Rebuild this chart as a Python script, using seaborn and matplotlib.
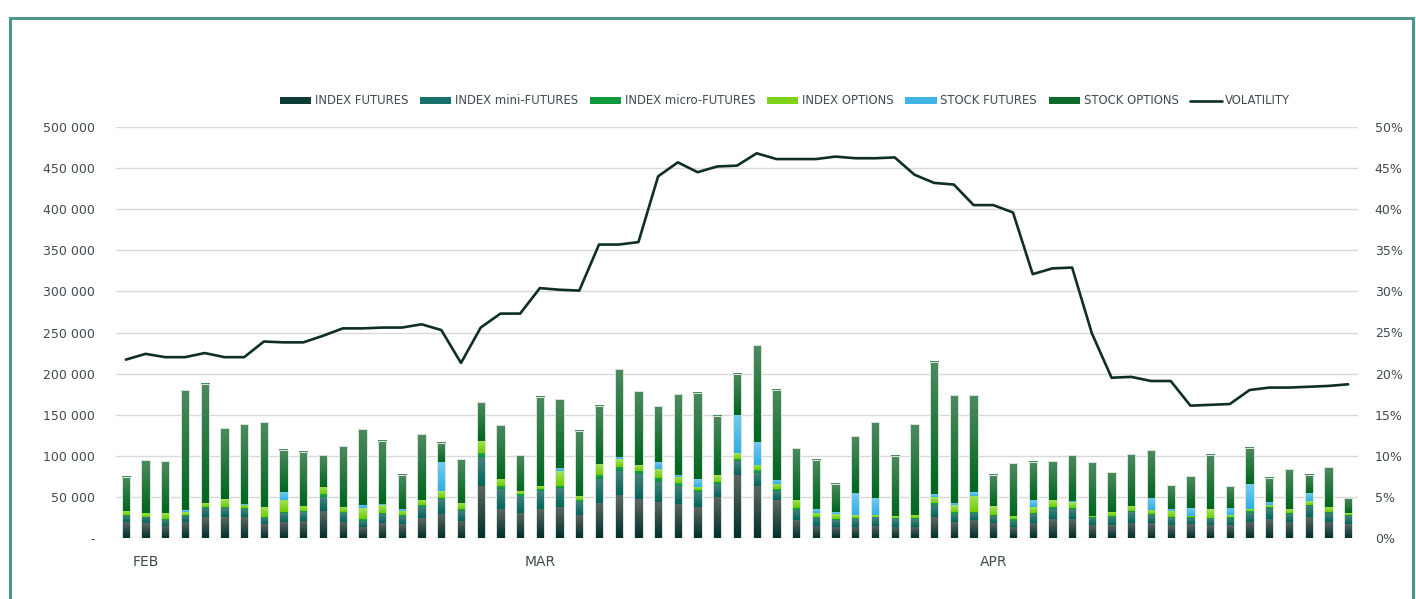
import matplotlib
matplotlib.use("Agg")
import matplotlib.pyplot as plt
from matplotlib.colors import LinearSegmentedColormap
from matplotlib.patches import Patch, Rectangle
from matplotlib.lines import Line2D
from matplotlib.ticker import FuncFormatter, MultipleLocator
import numpy as np
import pandas as pd
import seaborn as sns

## Data (contracts, in thousands) - one bar per trading day, Feb..Apr
months = ["FEB", "MAR", "APR"]
month_pos = [1, 21, 44]

index_futures = [19.5, 17.8, 15.0, 19.5, 25.1, 25.5, 25.5, 17.0, 19.5, 21.1,
                 32.8, 19.9, 13.4, 18.2, 17.0, 24.3, 29.2, 21.1, 63.7, 35.7,
                 30.8, 35.7, 37.7, 28.0, 42.6, 52.3, 47.4, 43.8, 41.8, 37.7,
                 49.9, 77.0, 63.7, 45.8, 21.9, 14.6, 13.8, 13.8, 15.0, 13.8,
                 13.8, 25.1, 19.1, 22.3, 18.7, 13.8, 18.7, 23.1, 23.1, 15.8,
                 15.8, 18.7, 18.2, 15.8, 17.0, 15.8, 15.8, 19.9, 23.1, 19.5,
                 25.1, 19.5, 17.0]
index_mini = [7.3, 7.3, 7.3, 7.7, 11.4, 10.9, 9.3, 7.7, 10.5, 10.1,
              17.4, 10.1, 7.7, 10.5, 9.3, 13.8, 17.8, 12.2, 34.9, 23.5,
              20.7, 21.1, 22.7, 16.2, 29.2, 29.2, 30.0, 24.3, 21.9, 18.7,
              15.4, 16.6, 15.8, 11.4, 12.2, 10.1, 8.1, 9.3, 10.1, 9.7,
              9.3, 15.0, 10.5, 7.7, 7.7, 7.3, 10.1, 12.2, 11.8, 8.9,
              10.1, 12.6, 9.3, 8.1, 6.9, 6.9, 7.7, 10.9, 12.6, 9.7,
              13.4, 10.5, 9.3]
index_micro = [1.2, 0.8, 1.2, 1.2, 1.2, 1.2, 1.2, 1.2, 1.6, 1.2,
               2.8, 1.2, 2.0, 1.6, 1.2, 2.4, 2.0, 1.6, 4.5, 3.6,
               2.0, 2.4, 2.8, 2.0, 4.9, 5.3, 4.1, 5.3, 2.8, 1.6,
               2.8, 2.4, 3.2, 2.0, 2.0, 1.2, 1.6, 1.6, 0.8, 1.2,
               1.2, 2.8, 1.6, 2.0, 2.0, 1.6, 1.6, 2.8, 2.0, 0.8,
               1.2, 1.6, 1.6, 1.6, 1.6, 2.0, 1.6, 1.6, 1.6, 1.6,
               2.0, 1.6, 1.6]
index_options = [4.9, 4.9, 7.3, 3.6, 4.9, 9.7, 4.5, 12.2, 14.6, 6.5,
                 9.3, 6.5, 13.0, 10.1, 5.7, 6.1, 8.1, 7.7, 15.0, 8.9,
                 3.6, 3.6, 18.7, 4.9, 13.4, 9.3, 7.3, 10.5, 7.7, 4.5,
                 8.1, 6.9, 6.1, 6.5, 10.5, 4.9, 5.7, 3.2, 2.0, 1.6,
                 4.1, 6.9, 8.5, 19.5, 10.5, 4.5, 7.3, 8.5, 6.9, 1.6,
                 4.9, 6.1, 4.9, 7.3, 1.6, 10.1, 2.4, 3.2, 2.4, 4.9,
                 4.1, 6.1, 2.4]
stock_futures = [0, 0, 0, 2.0, 0, 0, 1.2, 0, 9.3, 0,
                 0, 0, 4.5, 1.2, 2.0, 0, 34.9, 0, 0, 0,
                 0, 0, 3.6, 0, 0, 2.4, 0, 8.9, 2.0, 9.3,
                 0, 46.2, 28.0, 4.9, 0, 4.1, 2.0, 27.2, 21.1, 0,
                 0, 3.6, 2.8, 4.1, 0, 0, 8.1, 0, 1.6, 0,
                 0, 0, 14.6, 2.4, 9.7, 0, 9.3, 29.6, 4.1, 0,
                 9.7, 0, 0]
stock_options = [41.4, 64.1, 62.9, 145.6, 145.2, 86.0, 97.3, 103.0, 51.1, 65.7,
                 38.1, 73.8, 91.6, 77.0, 41.8, 79.9, 23.5, 53.5, 47.0, 65.3,
                 43.4, 108.7, 83.1, 79.5, 71.0, 106.6, 89.6, 67.7, 98.5, 105.0,
                 72.6, 50.3, 118.0, 109.9, 62.9, 60.0, 34.1, 69.3, 92.0, 73.4,
                 110.7, 160.6, 131.0, 118.0, 38.1, 63.7, 47.0, 47.0, 55.1, 64.9,
                 47.9, 62.9, 58.0, 28.8, 38.1, 65.7, 26.4, 44.2, 29.6, 48.3,
                 21.9, 48.3, 18.2]
# volatility, %
volatility = [21.7, 22.4, 22.0, 22.0, 22.5, 22.0, 22.0, 23.9, 23.8, 23.8,
              24.6, 25.5, 25.5, 25.6, 25.6, 26.0, 25.3, 21.3, 25.6, 27.3,
              27.3, 30.4, 30.2, 30.1, 35.7, 35.7, 36.0, 44.0, 45.7, 44.5,
              45.2, 45.3, 46.8, 46.1, 46.1, 46.1, 46.4, 46.2, 46.2, 46.3,
              44.2, 43.2, 43.0, 40.5, 40.5, 39.6, 32.1, 32.8, 32.9, 24.9,
              19.5, 19.6, 19.1, 19.1, 16.1, 16.2, 16.3, 18.0, 18.3, 18.3,
              18.4, 18.5, 18.7]

series = ["INDEX FUTURES", "INDEX mini-FUTURES", "INDEX micro-FUTURES",
          "INDEX OPTIONS", "STOCK FUTURES", "STOCK OPTIONS"]
values = [index_futures, index_mini, index_micro, index_options,
          stock_futures, stock_options]
# (bottom colour, top colour) of the excel style gradient, plus legend colour
grads = [("#00302b", "#5d6764", "#0f3b35"),
         ("#00665a", "#46837c", "#19706a"),
         ("#00923a", "#2aa455", "#0c9a3c"),
         ("#6acd00", "#a6e35e", "#7fd41b"),
         ("#2eb0e8", "#74caef", "#40b5e5"),
         ("#00661f", "#4d8a5f", "#0d6a2b")]
line_color = "#0e2e27"
text_color = "#404b4f"

sns.set_theme(style="white")
plt.rcParams["font.family"] = ["DejaVu Sans"]

W, H = 1416, 599
fig = plt.figure(figsize=(W / 100, H / 100), dpi=100)
ax = fig.add_axes([116 / W, (H - 538) / H, (1358 - 116) / W, (538 - 127) / H])

days = np.arange(len(volatility))
df = pd.DataFrame({"day": days, "volatility": np.array(volatility) / 100})

bottom = np.zeros(len(days))
grad = np.linspace(0, 1, 64).reshape(-1, 1)
for name, vals, (c0, c1, _) in zip(series, values, grads):
    vals = np.array(vals) * 1000
    bars = ax.bar(days, vals, bottom=bottom, width=0.42, color=c0,
                  edgecolor="none", zorder=2)
    cmap = LinearSegmentedColormap.from_list(name, [c0, c1])
    for rect in bars:
        h = rect.get_height()
        if h <= 0:
            continue
        x0, y0, w = rect.get_x(), rect.get_y(), rect.get_width()
        ax.imshow(grad, cmap=cmap, extent=(x0, x0 + w, y0, y0 + h),
                  aspect="auto", origin="lower", zorder=2.5,
                  interpolation="bilinear")
    bottom += vals

# faint light outline round each stacked column
ax.bar(days, bottom, width=0.42, facecolor="none", edgecolor="#dfe6e0",
       lw=0.7, zorder=3)

ax.set_xlim(-0.5, len(days) - 0.5)
ax.set_ylim(0, 500000)
ax.yaxis.set_major_locator(MultipleLocator(50000))
ax.yaxis.set_major_formatter(FuncFormatter(
    lambda v, p: "-" if v == 0 else f"{int(v):,}".replace(",", " ")))
ax.grid(axis="y", color="#d9d9d9", lw=1.0)
ax.set_axisbelow(True)
ax.set_xticks(month_pos)
ax.set_xticklabels(months)
ax.tick_params(axis="y", length=0, pad=15, labelsize=9, labelcolor=text_color)
ax.tick_params(axis="x", length=0, pad=12, labelsize=10, labelcolor=text_color)
for s in ax.spines.values():
    s.set_visible(False)

ax2 = ax.twinx()
sns.lineplot(data=df, x="day", y="volatility", ax=ax2, color=line_color,
             lw=1.9, zorder=5)
ax2.set_ylim(0, 0.5)
ax2.yaxis.set_major_locator(MultipleLocator(0.05))
ax2.yaxis.set_major_formatter(FuncFormatter(lambda v, p: f"{round(v * 100)}%"))
ax2.tick_params(axis="y", length=0, pad=12, labelsize=9, labelcolor=text_color)
ax2.set_xlabel("")
ax2.set_ylabel("")
ax.set_xlabel("")
for s in ax2.spines.values():
    s.set_visible(False)

handles = [Patch(facecolor=c, edgecolor="none") for _, _, c in grads]
handles.append(Line2D([0], [0], color=line_color, lw=1.9))
fig.legend(handles, series + ["VOLATILITY"], loc="center",
           bbox_to_anchor=(785 / W, (H - 101) / H), ncol=7, frameon=False,
           fontsize=8.4, labelcolor=text_color, handlelength=2.7,
           handleheight=0.65, handletextpad=0.3, columnspacing=1.0)

# teal frame around the chart
fig.add_artist(Rectangle((10 / W, -0.05), (1413 - 10) / W, (H - 18) / H + 0.05,
                         transform=fig.transFigure, fill=False,
                         edgecolor="#4b978b", lw=2.2))

fig.savefig("out.png", dpi=100)
